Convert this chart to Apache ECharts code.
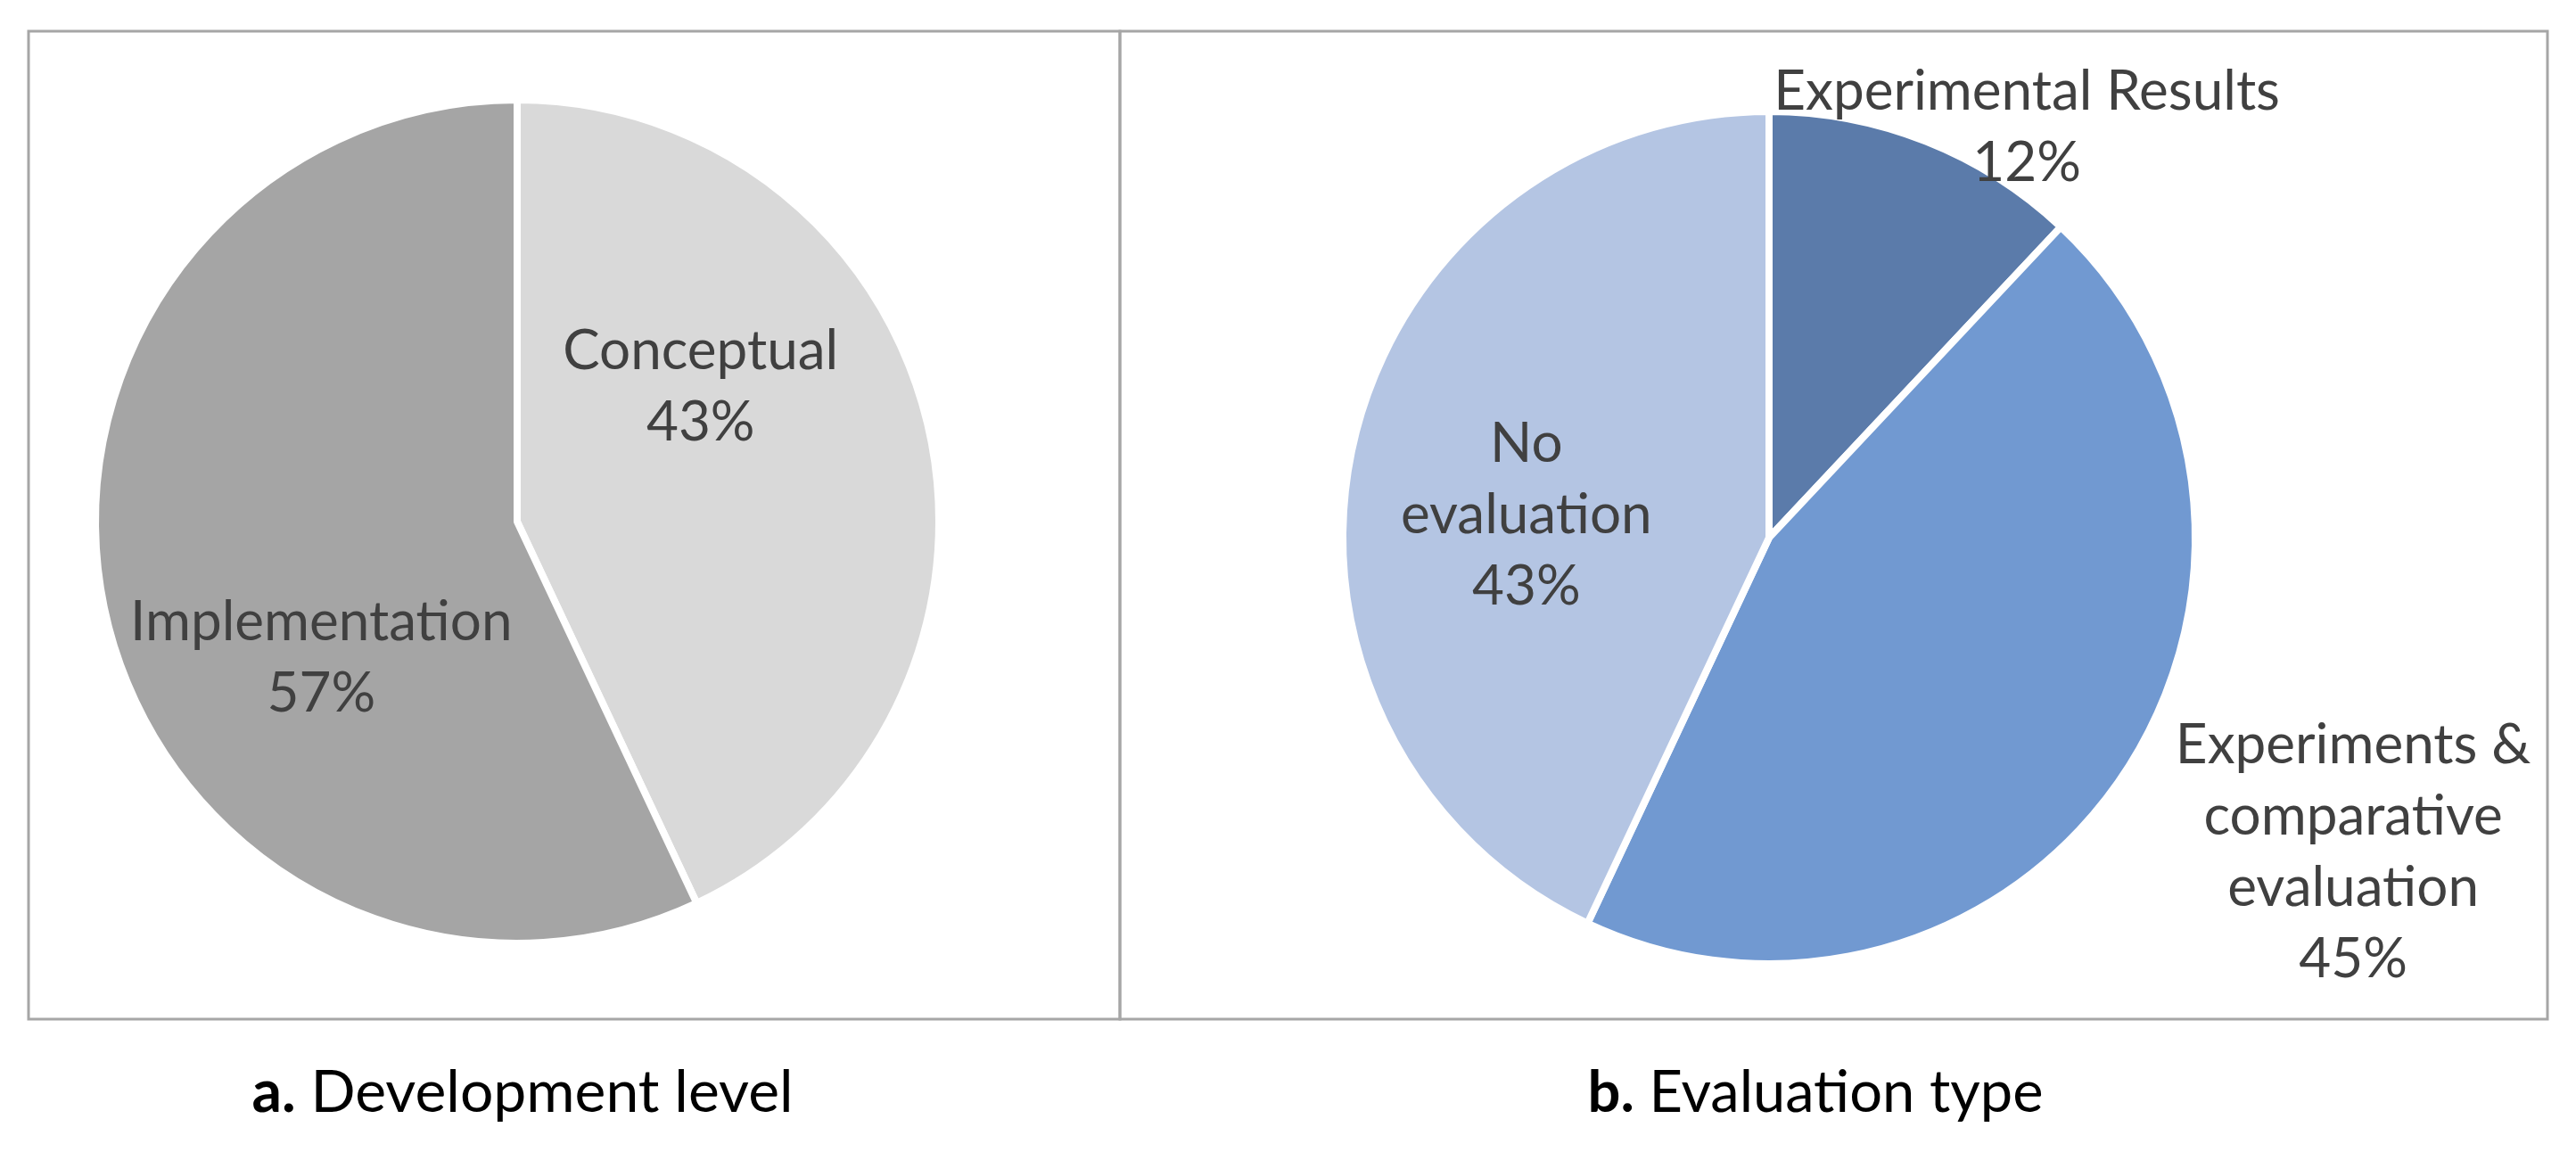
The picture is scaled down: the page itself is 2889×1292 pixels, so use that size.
<!DOCTYPE html>
<html>
<head>
<meta charset="utf-8">
<script src="https://cdn.jsdelivr.net/npm/echarts@6/dist/echarts.min.js"></script>
<style>
html,body{margin:0;padding:0;background:#fff;}
#chart{width:2889px;height:1292px;}
</style>
</head>
<body>
<div id="chart"></div>
<script>
// ---- Data ----
const devCategories = ['Conceptual', 'Implementation'];
const devValues = [43, 57];
const evalCategories = ['Experimental Results', 'Experiments &\ncomparative\nevaluation', 'No\nevaluation'];
const evalValues = [12, 45, 43];
const panelTitlesBold = ['a.', 'b.'];
const panelTitles = ['Development level', 'Evaluation type'];

// ---- Styles ----
const devColors = ['#d9d9d9', '#a5a5a5'];
const evalColors = ['#5b7baa', '#7199d1', '#b4c5e3'];
const devOffsets = [[-28, -99], [14, 101]];
const evalOffsets = [[200, -235], [455, 217], [-36, 28]];
const FONT = 'Lato, "Open Sans", sans-serif';

function buildData(cats, vals, colors, offsets) {
  return cats.map((c, i) => ({
    name: c,
    value: vals[i],
    itemStyle: { color: colors[i] },
    label: { offset: offsets[i] }
  }));
}

const labelStyle = {
  show: true,
  position: 'inside',
  formatter: '{b}\n{c}%',
  color: '#404040',
  fontFamily: FONT,
  fontSize: 62,
  lineHeight: 80,
  align: 'center'
};

const chart = echarts.init(document.getElementById('chart'), null, { renderer: 'canvas' });
chart.setOption({
  backgroundColor: '#ffffff',
  animation: false,
  graphic: [
    { type: 'rect', z: -1, shape: { x: 32, y: 35, width: 1224, height: 1108 },
      style: { fill: 'none', stroke: '#a6a6a6', lineWidth: 3 } },
    { type: 'rect', z: -1, shape: { x: 1256, y: 35, width: 1601, height: 1108 },
      style: { fill: 'none', stroke: '#a6a6a6', lineWidth: 3 } },
    { type: 'text', x: 586, y: 1226,
      style: { text: '{b|' + panelTitlesBold[0] + '} ' + panelTitles[0], align: 'center', verticalAlign: 'middle',
        fontFamily: FONT, fontSize: 66, fill: '#000',
        rich: { b: { fontWeight: 'bold', fontFamily: FONT, fontSize: 66, fill: '#000' } } } },
    { type: 'text', x: 2036, y: 1226,
      style: { text: '{b|' + panelTitlesBold[1] + '} ' + panelTitles[1], align: 'center', verticalAlign: 'middle',
        fontFamily: FONT, fontSize: 65, fill: '#000',
        rich: { b: { fontWeight: 'bold', fontFamily: FONT, fontSize: 65, fill: '#000' } } } }
  ],
  series: [
    {
      type: 'pie',
      center: [580, 585],
      radius: [0, 473],
      startAngle: 90,
      clockwise: true,
      avoidLabelOverlap: false,
      itemStyle: { borderColor: '#ffffff', borderWidth: 8 },
      label: labelStyle,
      labelLine: { show: false },
      emphasis: { disabled: true },
      data: buildData(devCategories, devValues, devColors, devOffsets)
    },
    {
      type: 'pie',
      center: [1984, 603],
      radius: [0, 478],
      startAngle: 90,
      clockwise: true,
      avoidLabelOverlap: false,
      itemStyle: { borderColor: '#ffffff', borderWidth: 8 },
      label: labelStyle,
      labelLine: { show: false },
      emphasis: { disabled: true },
      data: buildData(evalCategories, evalValues, evalColors, evalOffsets)
    }
  ]
});
</script>
</body>
</html>
